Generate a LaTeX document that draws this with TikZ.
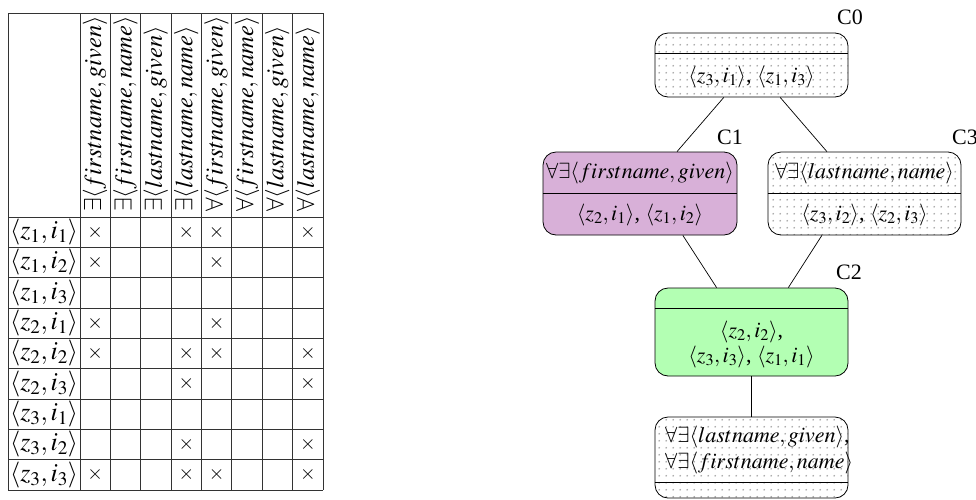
\documentclass[tikz,border=0pt]{standalone}
\usepackage{mathptmx}
\usepackage[no-math]{fontspec}
\setmainfont{Liberation Serif}
\usetikzlibrary{calc,patterns.meta}
\definecolor{cpurple}{RGB}{216,176,216}
\definecolor{cgreen}{RGB}{179,255,179}
\tikzdeclarepattern{
  name=sparsedots,
  type=uncolored,
  bounding box={(0pt,0pt) and (6.7pt,6.7pt)},
  tile size={(6.7pt,6.7pt)},
  code={\fill (3.35pt,3.35pt) circle (1pt);}
}
\tikzset{
  grid/.style={line width=0.9pt, draw=black!80},
  cbox/.style={draw, line width=0.8pt, rounded corners=13pt, inner sep=0pt,
    minimum width=193pt},
  dotted box/.style={cbox, pattern=sparsedots, pattern color=black!35},
  edge/.style={line width=0.7pt},
  txt/.style={inner sep=0pt},
  headtxt/.style={txt, font=\fontsize{24.5}{30}\selectfont},
  rowtxt/.style={txt, font=\fontsize{26}{30}\selectfont},
  crosstxt/.style={txt, font=\fontsize{20}{24}\selectfont},
}
\begin{document}
\begin{tikzpicture}[x=1pt, y=-1pt, every node/.style={font=\fontsize{22}{25.5}\selectfont}]
\useasboundingbox (0,0) rectangle (976,499);
% ---------- table ----------
\draw[grid] (8,13) -- (8,490);
\foreach \k in {0,...,8} \draw[grid] ({80+\k*30.375},13) -- ({80+\k*30.375},490);
\draw[grid] (8,13) -- (323,13);
\foreach \k in {0,...,9} \draw[grid] (8,{217+\k*30.333}) -- (323,{217+\k*30.333});
\foreach \i/\t in {
  1/{$\exists\langle firstname,given\rangle$},
  2/{$\exists\langle firstname,name\rangle$},
  3/{$\exists\langle lastname,given\rangle$},
  4/{$\exists\langle lastname,name\rangle$},
  5/{$\forall\langle firstname,given\rangle$},
  6/{$\forall\langle firstname,name\rangle$},
  7/{$\forall\langle lastname,given\rangle$},
  8/{$\forall\langle lastname,name\rangle$}}
  \node[headtxt, rotate=90, anchor=west] (h\i) at ({80+(\i-0.5)*30.375},212) {\t};
\foreach \r/\t in {
  1/{$\langle z_1,i_1\rangle$}, 2/{$\langle z_1,i_2\rangle$}, 3/{$\langle z_1,i_3\rangle$},
  4/{$\langle z_2,i_1\rangle$}, 5/{$\langle z_2,i_2\rangle$}, 6/{$\langle z_2,i_3\rangle$},
  7/{$\langle z_3,i_1\rangle$}, 8/{$\langle z_3,i_2\rangle$}, 9/{$\langle z_3,i_3\rangle$}}
  \node[rowtxt, anchor=west] (r\r) at (10,{217+(\r-0.5)*30.333}) {\t};
\foreach \r/\c in {1/1,1/4,1/5,1/8, 2/1,2/5, 4/1,4/5, 5/1,5/4,5/5,5/8,
  6/4,6/8, 8/4,8/8, 9/1,9/4,9/5,9/8}
  \node[crosstxt] (x\r\c) at ({80+(\c-0.5)*30.375},{217+(\r-0.5)*30.333}) {$\times$};
% ---------- lattice ----------
\node[dotted box, minimum height=64pt] (c0) at (751.5,65) {};
\node[cbox, fill=cpurple, minimum width=194pt, minimum height=83pt] (c1) at (640,193.5) {};
\node[dotted box, minimum height=83pt] (c3) at (864.5,193.5) {};
\node[cbox, fill=cgreen, minimum height=88pt] (c2) at (751.5,332) {};
\node[dotted box, minimum height=81pt] (c4) at (751.5,457.5) {};
% dividers
\draw[line width=0.8pt] ($(c0.north west)+(0,21)$) -- ($(c0.north east)+(0,21)$);
\draw[line width=0.8pt] ($(c1.north west)+(0,42)$) -- ($(c1.north east)+(0,42)$);
\draw[line width=0.8pt] ($(c3.north west)+(0,42)$) -- ($(c3.north east)+(0,42)$);
\draw[line width=0.8pt] ($(c2.north west)+(0,21)$) -- ($(c2.north east)+(0,21)$);
\draw[line width=0.8pt] ($(c4.north west)+(0,66)$) -- ($(c4.north east)+(0,66)$);
% texts
\node[txt] (t0) at (751.5,77) {$\langle z_3,i_1\rangle$, $\langle z_1,i_3\rangle$};
\node[txt] (t1a) at (640,173) {$\forall\exists\langle firstname,given\rangle$};
\node[txt] (t1b) at (640,215) {$\langle z_2,i_1\rangle$, $\langle z_1,i_2\rangle$};
\node[txt] (t3a) at (864.5,173) {$\forall\exists\langle lastname,name\rangle$};
\node[txt] (t3b) at (864.5,215) {$\langle z_3,i_2\rangle$, $\langle z_2,i_3\rangle$};
\node[txt, align=center] (t2) at (751.5,344.5) {$\langle z_2,i_2\rangle$,\\$\langle z_3,i_3\rangle$, $\langle z_1,i_1\rangle$};
\node[txt, align=left, anchor=west] (t4) at (665,450) {$\forall\exists\langle lastname,given\rangle$,\\$\forall\exists\langle firstname,name\rangle$};
% labels
\node[txt] (l0) at (850,17) {C0};
\node[txt] (l1) at (730,137) {C1};
\node[txt] (l3) at (965,137) {C3};
\node[txt] (l2) at (849,272) {C2};
% edges
\draw[edge] ($(c0.south west)!0.357!(c0.south east)$) -- ($(c1.north west)!0.69!(c1.north east)$);
\draw[edge] ($(c0.south west)!0.648!(c0.south east)$) -- ($(c3.north west)!0.306!(c3.north east)$);
\draw[edge] ($(c1.south west)!0.72!(c1.south east)$) -- ($(c2.north west)!0.32!(c2.north east)$);
\draw[edge] ($(c3.south west)!0.28!(c3.south east)$) -- ($(c2.north west)!0.69!(c2.north east)$);
\draw[edge] (c2.south) -- (c4.north);
\end{tikzpicture}
\end{document}
